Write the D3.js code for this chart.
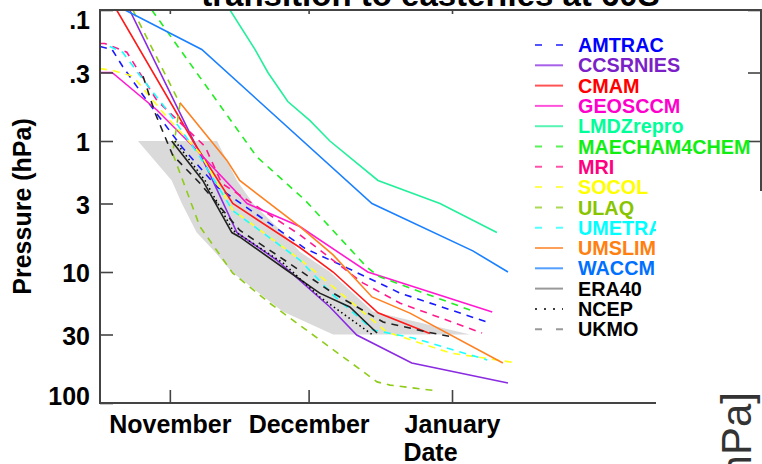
<!DOCTYPE html>
<html>
<head>
<meta charset="utf-8">
<script src="https://cdn.jsdelivr.net/npm/d3@7"></script>
<style>
body { margin: 0; background: #fff; }
text { font-family: "Liberation Sans", Arial, Helvetica, sans-serif; }
</style>
</head>
<body>
<div id="chart"></div>
<script>
// values: [days after 1 November, pressure in hPa]
var amtrac    = [[-15.1,0.19],[-12.5,0.2],[-10.2,0.27],[-5,0.49],[2.6,1.11],[10.2,2.24],[24.4,5.0],[29.2,6.6],[38.3,9.3],[49.8,14.5],[68.6,24.1]];
var ccsrnies  = [[-8.7,0.1],[8.2,1.66],[14.5,5.0],[23.1,8.1],[34.6,18.5],[40.4,30.3],[52.3,49.5],[73.1,70.3]];
var cmam      = [[-11.5,0.1],[5,1],[13.6,3],[28.1,6.5],[35.3,10],[45,20.5],[56.2,29.5]];
var geosccm   = [[-15.1,0.3],[-12.5,0.3],[-2.8,0.58],[5.8,1.17],[16.7,3.0],[28.1,4.5],[42.8,10],[69.7,20.2]];
var lmdzrepro = [[13,0.1],[18.4,0.2],[21.2,0.3],[25.5,0.5],[30.3,0.7],[34.6,1],[45,2],[58.4,3],[70.7,5]];
var maecham   = [[-3.9,0.1],[18.8,1.32],[29.2,2.82],[42.6,9.2],[45.4,10.9],[64.9,19.5]];
var mri       = [[-15.1,0.18],[-14.1,0.18],[-9.3,0.21],[-2.8,0.49],[7.6,1.1],[11.2,2.1],[28.1,5.2],[41.7,12.1],[49.8,17.3],[67.5,29.2]];
var socol     = [[-15.1,0.28],[-12.3,0.29],[-8,0.32],[-0.6,0.66],[6.5,1.24],[13.6,3.36],[29.6,8.8],[46.9,28.7],[60.6,41.5],[75.1,49.5]];
var ulaq      = [[-8,0.1],[2.2,0.52],[0.6,1.24],[6.5,4.5],[13.6,10.2],[21.6,17.3],[44.8,69],[47.6,73],[58,81]];
var umetra    = [[-13,0.19],[-10.2,0.21],[-5.8,0.34],[-0.6,0.58],[6.5,1.32],[13.6,3.4],[28.1,8.1],[35.3,15],[43.9,27.7],[52.6,31.9],[68.6,46.9]];
var umslim    = [[2.2,0.51],[12.3,1.4],[15.1,2],[28.1,4.5],[35.3,7.4],[43.7,15.5],[51.9,20.6],[72,49.5]];
var waccm     = [[-9.7,0.1],[6.9,0.2],[43.7,3.0],[65.5,6.9],[73.1,10]];
var era40     = [[0.4,1.0],[7.1,2],[13.4,5],[15.1,5.4],[25.3,9.7],[32.4,14.5],[38.9,18.5],[44.8,29.2]];
var ncep      = [[1.1,1.0],[7.6,2],[13.6,4.8],[24.4,8.5],[32.4,15.5],[43.9,30.3]];
var ukmo      = [[-5.8,0.32],[-3.2,0.61],[0.6,1.28],[6.5,2.1],[15.1,4.8],[23.1,7.4],[35.3,14.5],[46.1,24.1],[55.6,28.7],[61,31.3]];

var seriesNames  = ["AMTRAC","CCSRNIES","CMAM","GEOSCCM","LMDZrepro","MAECHAM4CHEM","MRI","SOCOL","ULAQ","UMETRA","UMSLIM","WACCM","ERA40","NCEP","UKMO"];
var seriesData   = [amtrac, ccsrnies, cmam, geosccm, lmdzrepro, maecham, mri, socol, ulaq, umetra, umslim, waccm, era40, ncep, ukmo];
var seriesColors = ["#1a1aff","#8a2be2","#ff1a1a","#ff1ad0","#22f09a","#22ee22","#ff1a8c","#ffff1a","#8fcc1a","#1affff","#ff8020","#1a80ff","#222222","#000000","#222222"];
var textColors   = ["#0000ff","#7b1fc8","#ff0000","#ff00cc","#00ff99","#11ee11","#ff0080","#ffff00","#88c400","#00ffff","#ff7f10","#0070ff","#000000","#000000","#000000"];
var seriesStyles = ["dash","solid","solid","solid","solid","dash","dash","dash","dash","dash","solid","solid","solid","dot","dash"];

// spread of the reanalyses
var bandLevels = [1, 2, 3, 5, 7, 10, 20, 30];
var bandLow    = [-6.9, 0.4, 2.6, 5.8, 9.7, 13.4, 24.4, 35.3];
var bandHigh   = [10.2, 14.5, 18.0, 24.4, 28.1, 34.6, 43.9, 64.9];

var monthTicks  = [0, 30, 61];
var monthLabels = ["November", "December", "January"];
var pTicks      = [0.1, 0.3, 1, 3, 10, 30, 100];
var pLabels     = [".1", ".3", "1", "3", "10", "30", "100"];

var width = 762, height = 464,
    box = {left: 100, right: 761, top: 10, bottom: 403};

var svg = d3.select("#chart").append("svg")
    .attr("width", width)
    .attr("height", height);

var x = d3.scaleLinear().domain([-15.1, 127.8]).range([box.left, box.right]);
var y = d3.scaleLog().domain([100, 0.1]).range([box.bottom, box.top]);

svg.append("clipPath").attr("id", "plotclip")
  .append("rect")
    .attr("x", box.left).attr("y", box.top)
    .attr("width", box.right - box.left).attr("height", box.bottom - box.top);

var plot = svg.append("g").attr("clip-path", "url(#plotclip)");

// grey band
var band = bandLevels.map(function(p, i) { return [bandLow[i], p]; })
  .concat(bandLevels.map(function(p, i) { return [bandHigh[i], p]; }).reverse());
plot.append("path")
    .attr("d", d3.line().x(function(d) { return x(d[0]); }).y(function(d) { return y(d[1]); })(band) + "Z")
    .attr("fill", "#dadada")
    .attr("stroke", "none");

var dashFor = { solid: null, dash: "7,6", dot: "1.5,3" };

var line = d3.line()
    .x(function(d) { return x(d[0]); })
    .y(function(d) { return y(d[1]); });

seriesData.forEach(function(s, i) {
  plot.append("path")
      .attr("d", line(s))
      .attr("fill", "none")
      .attr("stroke", seriesColors[i])
      .attr("stroke-width", 1.6)
      .attr("stroke-dasharray", dashFor[seriesStyles[i]]);
});

// axes
var yAxis = d3.axisLeft(y).tickValues(pTicks)
    .tickFormat(function(d, i) { return pLabels[i]; })
    .tickSize(-13).tickPadding(10);
var gy = svg.append("g").attr("transform", "translate(" + box.left + ",0)").call(yAxis);
gy.select(".domain").remove();
gy.selectAll("text")
    .attr("font-size", 25).attr("font-weight", "bold").attr("fill", "#000")
    .attr("dy", function(d) { return d === 0.1 ? "0.75em" : d === 100 ? "0.05em" : "0.38em"; });

var yAxisR = d3.axisRight(y).tickValues(pTicks).tickFormat("").tickSize(-13);
var gyr = svg.append("g").attr("transform", "translate(" + box.right + ",0)").call(yAxisR);
gyr.select(".domain").remove();

var xAxis = d3.axisBottom(x).tickValues(monthTicks)
    .tickFormat(function(d, i) { return monthLabels[i]; })
    .tickSize(-13).tickPadding(12);
var gx = svg.append("g").attr("transform", "translate(0," + box.bottom + ")").call(xAxis);
gx.select(".domain").remove();
gx.selectAll("text").attr("font-size", 25).attr("font-weight", "bold").attr("fill", "#000");

var xAxisT = d3.axisTop(x).tickValues(monthTicks).tickFormat("").tickSize(-4);
var gxt = svg.append("g").attr("transform", "translate(0," + box.top + ")").call(xAxisT);
gxt.select(".domain").remove();

svg.selectAll(".tick line").attr("stroke", "#444").attr("stroke-width", 1.6);

svg.append("rect")
    .attr("x", box.left).attr("y", box.top)
    .attr("width", box.right - box.left).attr("height", box.bottom - box.top)
    .attr("fill", "none").attr("stroke", "#444").attr("stroke-width", 2);

// axis titles
svg.append("text")
    .attr("transform", "translate(31," + ((box.top + box.bottom) / 2) + ") rotate(-90)")
    .attr("text-anchor", "middle")
    .attr("font-size", 25).attr("font-weight", "bold")
    .text("Pressure (hPa)");

svg.append("text")
    .attr("x", (box.left + box.right) / 2).attr("y", 461)
    .attr("text-anchor", "middle")
    .attr("font-size", 25).attr("font-weight", "bold")
    .text("Date");

svg.append("text")
    .attr("x", (box.left + box.right) / 2).attr("y", 6)
    .attr("text-anchor", "middle")
    .attr("font-size", 33).attr("font-weight", "bold")
    .text("transition to easterlies at 60S");

// legend
var legend = svg.append("g").attr("transform", "translate(535,45)");
seriesNames.forEach(function(name, i) {
  var row = legend.append("g").attr("transform", "translate(0," + (i * 20.3) + ")");
  row.append("line")
      .attr("x1", 0).attr("x2", 28).attr("y1", 0).attr("y2", 0)
      .attr("stroke", i >= 12 && seriesStyles[i] !== "dot" ? "#777" : seriesColors[i])
      .attr("stroke-opacity", 0.75)
      .attr("stroke-width", 2)
      .attr("stroke-dasharray", seriesStyles[i] === "dash" ? "7,14" : seriesStyles[i] === "dot" ? "2,7" : null);
  row.append("text")
      .attr("x", 43).attr("y", 0).attr("dy", "0.36em")
      .attr("font-size", 19.8).attr("font-weight", "bold")
      .attr("fill", textColors[i])
      .text(name);
});

// white patch pasted over the lower right corner of the figure
svg.append("rect")
    .attr("x", 656).attr("y", 191)
    .attr("width", width - 656).attr("height", height - 191)
    .attr("fill", "#fff");

svg.append("text")
    .attr("transform", "translate(751,392) rotate(-90)")
    .attr("text-anchor", "end")
    .attr("font-size", 42)
    .attr("fill", "#333")
    .text("[hPa]");
</script>
</body>
</html>
